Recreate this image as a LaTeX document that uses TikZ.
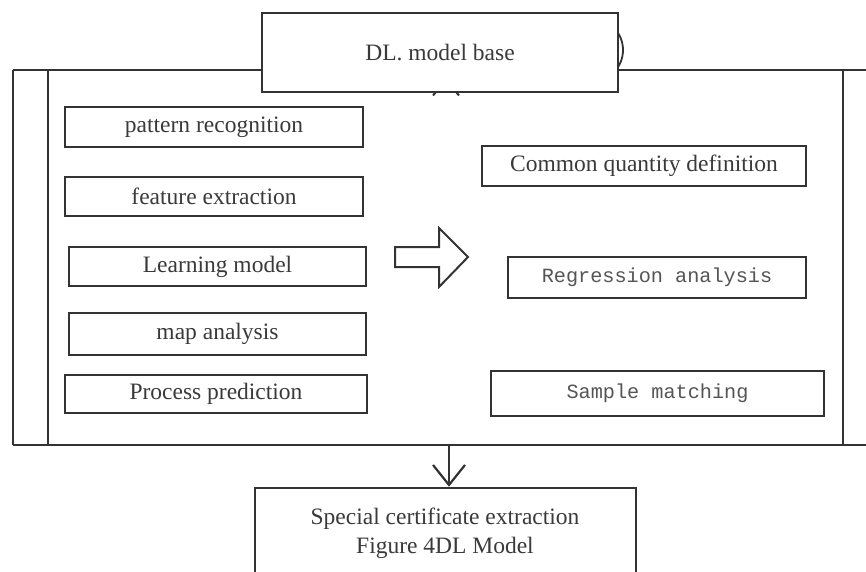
\documentclass[tikz,border=0pt]{standalone}
\usepackage{fontspec}
\setmainfont{Liberation Serif}
\newfontfamily\monofnt{Liberation Mono}
\usetikzlibrary{arrows.meta}
\definecolor{ln}{HTML}{333333}
\definecolor{tx}{HTML}{3A3A3A}
\definecolor{mtx}{HTML}{555555}
\begin{document}
\begin{tikzpicture}[x=1pt,y=-1pt,
  box/.style={draw=ln,line width=2.6pt,fill=white,inner sep=0pt,text=tx,
    font=\fontsize{23.5}{28}\selectfont},
  mbox/.style={box,text=mtx,font=\monofnt\fontsize{20.2}{24}\selectfont},
  frame/.style={draw=ln,line width=2.2pt}]
\useasboundingbox (0,0) rectangle (866,571);
\clip (0,0) rectangle (866,571);
% outer frame
\draw[frame] (13,70) -- (880,70);
\draw[frame] (13,445) -- (880,445);
\draw[frame] (13,70) -- (13,445);
\draw[frame] (48,70) -- (48,445);
\draw[frame] (843,70) -- (843,445);
% partial arc and hidden arrow behind top box
\draw[ln,line width=1.8pt] (614,28) .. controls (626,40) and (626,60) .. (614,72);
\draw[ln,line width=2pt] (433,95.5) -- (446,80) -- (459,95.5);
% top box
\node[box,minimum width=356,minimum height=79] (top) at (440,52.5) {DL. model base};
% left boxes
\node[box,minimum width=298,minimum height=40] (l1) at (214,127) {pattern recognition};
\node[box,minimum width=298,minimum height=39] (l2) at (214,196.5) {feature extraction};
\node[box,minimum width=297,minimum height=39] (l3) at (217.5,266.5) {Learning model};
\node[box,minimum width=297,minimum height=42] (l4) at (217.5,334) {map analysis};
\node[box,minimum width=302,minimum height=38] (l5) at (216,394) {Process prediction};
% right boxes
\node[box,minimum width=324,minimum height=40] (r1) at (644,166) {Common quantity definition};
\node[mbox,minimum width=298,minimum height=41] (r2) at (657,277.5) {Regression analysis};
\node[mbox,minimum width=333,minimum height=45] (r3) at (657.5,393.5) {Sample matching};
% hollow arrow
\draw[ln,line width=2pt,line join=miter] (395,247) -- (439,247) -- (439,228) -- (468,257)
  -- (439,287) -- (439,267) -- (395,267) -- cycle;
% bottom box
\coordinate (fb) at (449,445);
\node[box,minimum width=381,minimum height=112] (bot) at (445.5,544) {};
\node[text=tx,font=\fontsize{23.5}{29}\selectfont,align=center,inner sep=0pt] (bottxt) at (445,533)
  {Special certificate extraction\\Figure 4DL Model};
\draw[ln,line width=2.2pt,-{Straight Barb[length=20pt,width=32pt,line width=2.2pt]}]
  (fb) -- (fb |- bot.north);
\end{tikzpicture}
\end{document}
